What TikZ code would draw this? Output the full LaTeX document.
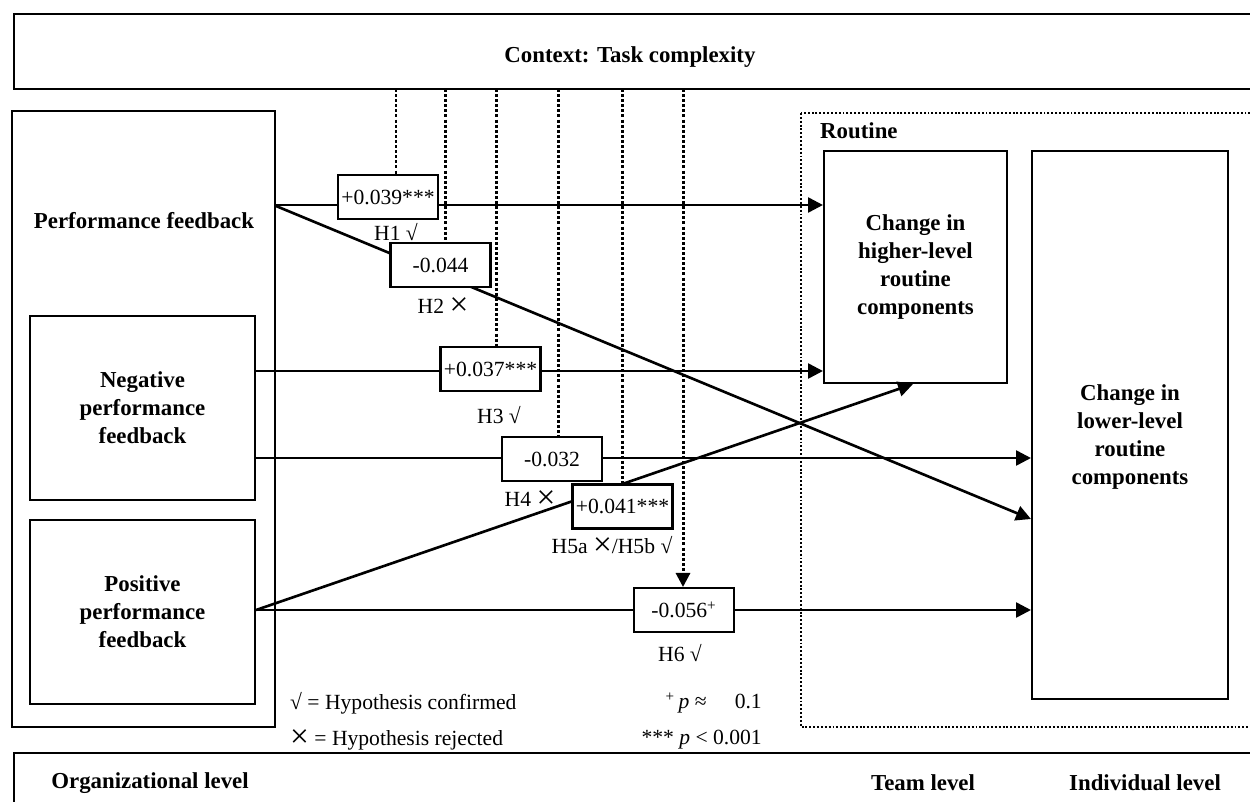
\documentclass[tikz,border=0pt]{standalone}
\usepackage{fontspec}
\setmainfont{Liberation Serif}
\usetikzlibrary{arrows.meta}
\newcommand{\confmark}{√}
\newcommand{\rejmark}{\raisebox{-1.2pt}{\fontsize{19}{19}\selectfont ×}}
\begin{document}
\begin{tikzpicture}[x=0.02cm,y=-0.02cm,
  box/.style={draw, line width=1.2pt, inner sep=0pt, fill=white},
  boldtxt/.style={font=\fontsize{13}{16}\selectfont\bfseries, align=center},
  coef/.style={box, minimum width=2cm, minimum height=0.88cm, font=\fontsize{12.3}{14}\selectfont},
  hyp/.style={font=\fontsize{12.3}{14}\selectfont},
  conn/.style={line width=1.5pt},
  arr/.style={conn, -{Triangle[length=8.5pt,width=8.5pt]}},
  ctxline/.style={line width=1.7pt, dash pattern=on 1.7pt off 1.2pt},
  framebar/.style={draw, line width=1.4pt},
  routinebox/.style={draw, line width=1.1pt, dash pattern=on 1.1pt off 1.1pt}]
\useasboundingbox (0,0) rectangle (1250,801);
\clip (0,0) rectangle (1250,801);

% context bar
\draw[framebar] (14,14) rectangle (1262,89);
\node[boldtxt] (ctxt) at (630,57) {Context: Task complexity};

% level bar
\draw[framebar] (14,753) rectangle (1262,840);
\node[boldtxt] (orgl) at (150,783) {Organizational level};
\node[boldtxt] (teaml) at (923,783) {Team level};
\node[boldtxt] (indl) at (1145,783) {Individual level};

% routine frame
\draw[routinebox] (801,113) rectangle (1262,727);
\node[boldtxt, anchor=west] (rtl) at (814,131) {Routine};

% left boxes
\node[box, minimum width=5.26cm, minimum height=12.32cm] (pf) at (143.5,419) {};
\node[boldtxt] (pft) at (144,221) {Performance feedback};
\node[box, boldtxt, minimum width=4.5cm, minimum height=3.68cm] (neg) at (142.5,408) {Negative\\performance\\feedback};
\node[box, boldtxt, minimum width=4.5cm, minimum height=3.68cm] (pos) at (142.5,612) {Positive\\performance\\feedback};

% right boxes
\node[box, boldtxt, minimum width=3.66cm, minimum height=4.64cm] (high) at (915.5,267) {Change in\\higher-level\\routine\\components};
\node[box, minimum width=3.92cm, minimum height=10.96cm] (low) at (1130,425) {};
\node[boldtxt] (lowt) at (1130,437) {Change in\\lower-level\\routine\\components};

% coefficient box positions
\coordinate (h1c) at (388,197);
\coordinate (h2c) at (440.5,265);
\coordinate (h3c) at (490.5,369);
\coordinate (h4c) at (552,459);
\coordinate (h5c) at (622.5,506.5);
\coordinate (h6c) at (684,610);

% dotted moderator lines
\draw[ctxline] (396,89) -- (396,175);
\draw[ctxline] (445,89) -- (445,243);
\draw[ctxline] (496,89) -- (496,347);
\draw[ctxline] (558,89) -- (558,437);
\draw[ctxline] (622,89) -- (622,484);
\draw[ctxline, -{Triangle[length=8pt,width=8pt]}] (683,89) -- (683,587);

% main arrows
\draw[arr] (pf.east |- 0,205) -- (high.west |- 0,205);
\draw[arr] (pf.east |- 0,206) -- (low.west |- 0,519);
\draw[arr] (neg.east |- 0,371) -- (high.west |- 0,371);
\draw[arr] (neg.east |- 0,458) -- (low.west |- 0,458);
\draw[arr] (pos.east |- 0,610) -- (high.south -| 913,0);
\draw[arr] (pos.east |- 0,610) -- (low.west |- 0,610);

% coefficient boxes
\node[coef] (h1) at (h1c) {+0.039***};
\node[coef] (h2) at (h2c) {-0.044};
\node[coef] (h3) at (h3c) {+0.037***};
\node[coef] (h4) at (h4c) {-0.032};
\node[coef] (h5) at (h5c) {+0.041***};
\node[coef] (h6) at (h6c) {-0.056\textsuperscript{+}};

% hypothesis labels
\node[hyp] (l1) at (396,232) {H1 \confmark};
\node[hyp] (l2) at (443,307) {H2 \rejmark};
\node[hyp] (l3) at (499,415) {H3 \confmark};
\node[hyp] (l4) at (530,500) {H4 \rejmark};
\node[hyp] (l5) at (612,546) {H5a \rejmark/H5b \confmark};
\node[hyp] (l6) at (680,653) {H6 \confmark};

% legend
\node[hyp, anchor=west] (lg1) at (284,703) {\confmark{} = Hypothesis confirmed};
\node[hyp, anchor=west] (lg2) at (284,740) {\rejmark{} = Hypothesis rejected};
\node[hyp, anchor=east] (lg3) at (768,703) {\textsuperscript{+}\,\textit{p} ≈\hspace{1.3em}0.1};
\node[hyp, anchor=east] (lg4) at (768,740) {*** \textit{p} < 0.001};
\end{tikzpicture}
\end{document}
